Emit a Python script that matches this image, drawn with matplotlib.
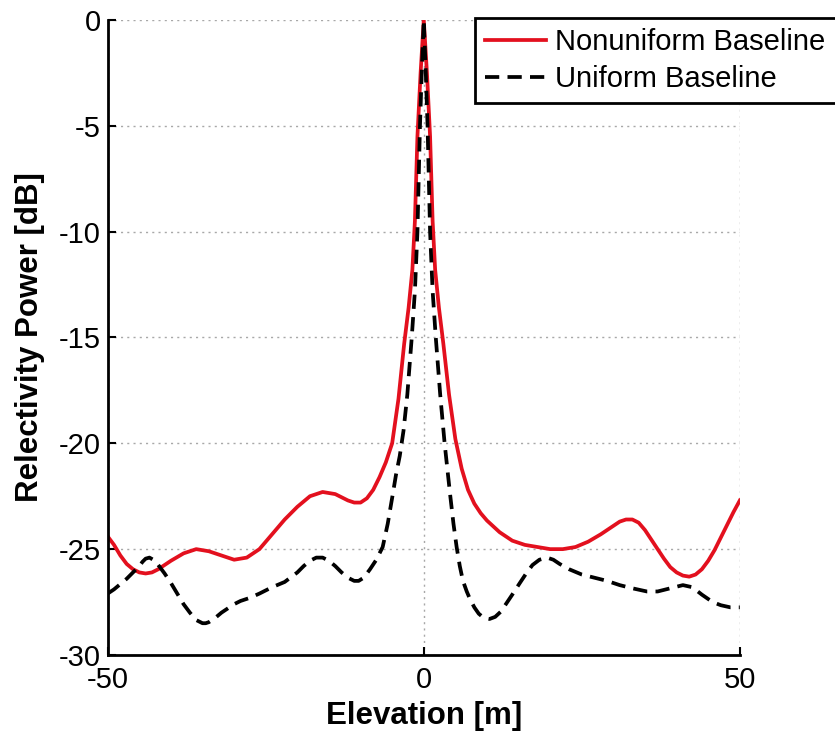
import matplotlib
matplotlib.use("Agg")
import matplotlib.pyplot as plt

# values
x_nonuni = [-50, -49, -48, -47, -46, -45, -44, -43, -42, -40, -38, -36, -34, -32,
            -30, -28, -26, -24, -22, -20, -18, -16, -14, -12, -11, -10, -9, -8, -7,
            -6, -5, -4, -3.1, -2.4, -1.8, -1.4, -1.0, -0.5, 0, 0.5, 1.0, 1.4, 1.8,
            2.4, 3.1, 4, 5, 6, 7, 8, 9, 10, 12, 14, 16, 18, 20, 22, 24, 26, 28, 30,
            31, 32, 33, 34, 35, 36, 37, 38, 39, 40, 41, 42, 43, 44, 45, 46, 47, 48,
            49, 50]
y_nonuni = [-24.4, -24.8, -25.3, -25.7, -25.95, -26.1, -26.15, -26.1, -25.95,
            -25.55, -25.2, -25.0, -25.1, -25.3, -25.5, -25.4, -25.0, -24.3, -23.6,
            -23.0, -22.5, -22.3, -22.4, -22.7, -22.8, -22.8, -22.6, -22.2, -21.6,
            -20.9, -20.0, -17.9, -15.3, -13.6, -11.8, -9.5, -5.5, -2.5, 0, -2.5,
            -5.5, -9.5, -11.8, -13.6, -15.3, -17.7, -19.8, -21.2, -22.2, -22.85,
            -23.3, -23.65, -24.2, -24.6, -24.8, -24.9, -25.0, -25.0, -24.9, -24.65,
            -24.3, -23.9, -23.7, -23.6, -23.6, -23.75, -24.1, -24.55, -25.0, -25.45,
            -25.85, -26.1, -26.25, -26.3, -26.2, -25.95, -25.55, -25.05, -24.45,
            -23.85, -23.25, -22.7]

x_uni = [-50, -49, -48, -47, -46, -45, -44.5, -44, -43.4, -42.5, -42, -41, -40,
         -39, -38, -37, -36, -35, -34.5, -34, -33, -32, -31, -30, -29, -27.5, -26,
         -24, -22, -20, -19, -18, -17, -16, -15, -14, -13, -12, -11, -10.3, -9.5,
         -8.5, -7.5, -6.5, -5.7, -4.9, -4.4, -3.8, -3.2, -2.6, -1.9, -1.4, -1.0,
         -0.8, -0.6, -0.3, 0, 0.3, 0.6, 0.8, 1.0, 1.4, 1.9, 2.6, 3.3, 3.8, 4.2, 4.7,
         5.2, 5.7, 6.2, 6.8, 7.3, 8.0, 8.7, 9.5, 10.4, 11.3, 12.2, 13.1, 14, 15.2, 16.2,
         17.2, 18.3, 19.5, 20.5, 21.5, 23, 25, 27, 29, 31, 33, 35.3, 37, 39, 41,
         42.5, 44, 45.7, 47, 48.5, 50]
y_uni = [-27.1, -26.9, -26.65, -26.4, -26.1, -25.8, -25.6, -25.45, -25.4, -25.55,
         -25.75, -26.15, -26.6, -27.1, -27.6, -28.0, -28.35, -28.5, -28.5, -28.45,
         -28.25, -28.0, -27.8, -27.6, -27.45, -27.3, -27.1, -26.8, -26.55, -26.1,
         -25.8, -25.55, -25.4, -25.4, -25.55, -25.8, -26.1, -26.35, -26.5, -26.5,
         -26.35, -25.95, -25.5, -24.9, -23.8, -22.4, -21.5, -20.6, -19.4, -17.7,
         -15.0, -12.8, -10.0, -7.5, -5.0, -2.3, 0, -2.3, -5.0, -7.5, -10.0, -12.8,
         -15.0, -17.7, -20.0, -21.4, -22.5, -23.8, -24.9, -25.8, -26.5, -27.0,
         -27.35, -27.75, -28.05, -28.25, -28.3, -28.2, -27.95, -27.55, -27.15,
         -26.6, -26.15, -25.75, -25.5, -25.4, -25.5, -25.7, -25.95, -26.2, -26.35,
         -26.5, -26.7, -26.85, -27.0, -27.0, -26.85, -26.7, -26.8, -27.15, -27.5,
         -27.65, -27.75, -27.75]

x_ticks = [-50, 0, 50]
y_ticks = [0, -5, -10, -15, -20, -25, -30]

plt.rcParams['font.family'] = ['Liberation Sans', 'DejaVu Sans']
plt.rcParams['axes.unicode_minus'] = False

fig = plt.figure(figsize=(8.35, 7.38), dpi=100)
ax = fig.add_axes([0.129, 0.1125, 0.757, 0.8605])

ax.plot(x_nonuni, y_nonuni, color='#e3101e', lw=2.7, label='Nonuniform Baseline')
ax.plot(x_uni, y_uni, color='black', lw=2.7, dashes=(3.8, 2.2), label='Uniform Baseline')

ax.set_xlim(-50, 50)
ax.set_ylim(-30, 0)
ax.set_xticks(x_ticks)
ax.set_yticks(y_ticks)
ax.grid(True, color='#a8a8a8', linestyle=(0, (1.5, 3)), linewidth=1.0)
ax.spines['top'].set_visible(False)
ax.spines['right'].set_visible(False)
ax.spines['left'].set_linewidth(2)
ax.spines['bottom'].set_linewidth(2)
ax.tick_params(direction='in', length=6, width=1.5, labelsize=21, pad=5)
ax.tick_params(axis='x', pad=8)

ax.set_xlabel('Elevation [m]', fontsize=22.5, fontweight='bold', labelpad=5)
ax.set_ylabel('Relectivity Power [dB]', fontsize=22.5, fontweight='bold', labelpad=10)

leg = ax.legend(loc='upper left', bbox_to_anchor=(0.581, 1.003), borderaxespad=0,
                fontsize=21, handlelength=2.1, handletextpad=0.3, labelspacing=0.3,
                borderpad=0.35, fancybox=False, framealpha=1, edgecolor='black')
leg.get_frame().set_linewidth(2)

fig.savefig('out.png', dpi=100)
